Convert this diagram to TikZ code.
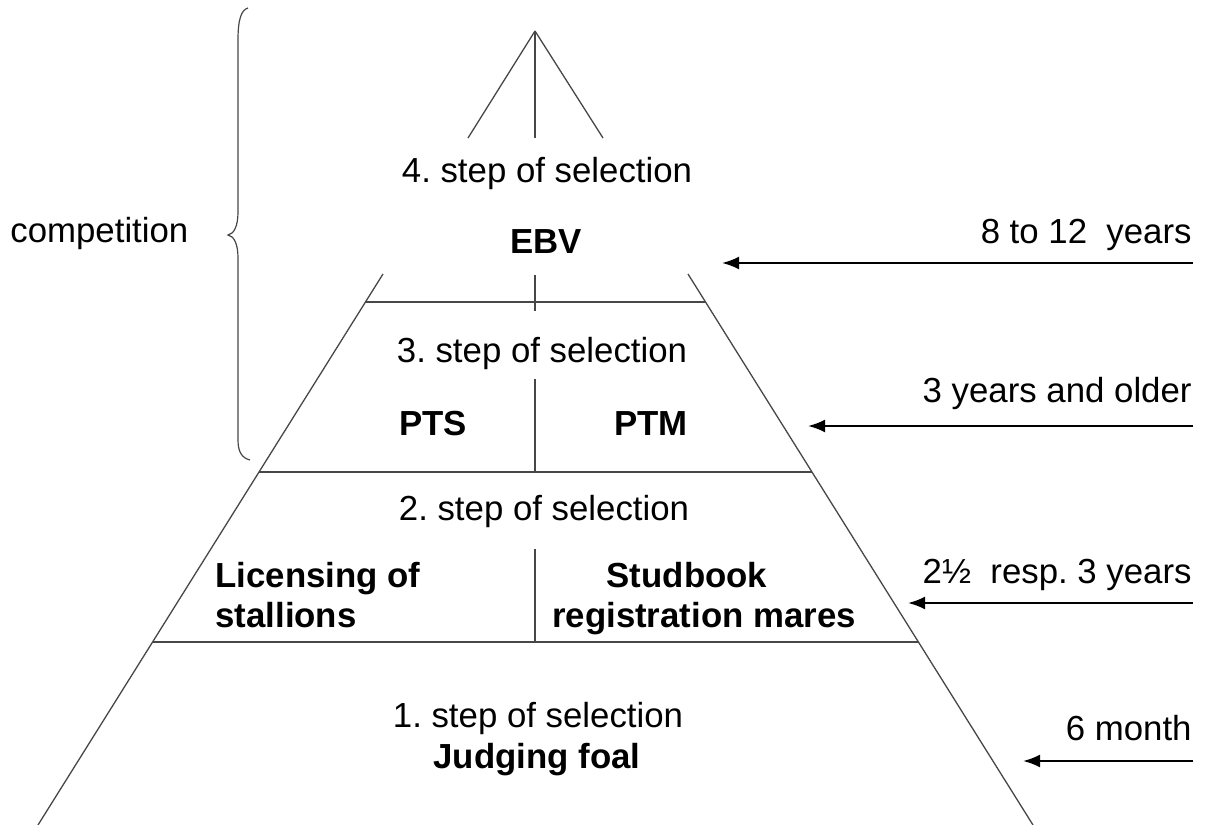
\documentclass[tikz,border=0pt]{standalone}
\usepackage{fontspec}
\setmainfont{Liberation Sans}
\usetikzlibrary{arrows.meta}
\frenchspacing
\begin{document}
\begin{tikzpicture}[x=0.5pt,y=-0.5pt,
  every node/.style={inner sep=0pt, font=\fontsize{17.4}{20}\selectfont},
  lbl/.style={anchor=base},
  bld/.style={anchor=base, font=\fontsize{17.4}{20}\selectfont\bfseries},
  agelbl/.style={anchor=base east},
  pyr/.style={draw=black!72, line width=0.65pt},
  bracepath/.style={draw=black!72, line width=0.6pt},
  agearrow/.style={-{Latex[length=8.5pt,width=6.5pt]}, line width=1.1pt},
]
\useasboundingbox (0,0) rectangle (1206,825);

% pyramid geometry
\coordinate (apex) at (535,31);
\coordinate (tl) at (468,138);
\coordinate (tm) at (535,138);
\coordinate (tr) at (603,138);
\coordinate (sl) at (383,274);
\coordinate (sr) at (688,274);
\coordinate (bl) at (38,825);
\coordinate (br) at (1033,825);
\coordinate (h1l) at (365.5,302);
\coordinate (h1r) at (705.5,302);
\coordinate (h2l) at (259,472);
\coordinate (h2r) at (812,472);
\coordinate (h3l) at (152.5,642);
\coordinate (h3r) at (918.5,642);
\coordinate (v1a) at (535,275);
\coordinate (v1b) at (535,311);
\coordinate (v2a) at (535,379);
\coordinate (v2b) at (535,472);
\coordinate (v3a) at (535,549);
\coordinate (v3b) at (535,642);

\draw[pyr] (apex) -- (tl);
\draw[pyr] (apex) -- (tm);
\draw[pyr] (apex) -- (tr);
\draw[pyr] (sl) -- (bl);
\draw[pyr] (sr) -- (br);
\draw[pyr] (h1l) -- (h1r);
\draw[pyr] (h2l) -- (h2r);
\draw[pyr] (h3l) -- (h3r);
\draw[pyr] (v1a) -- (v1b);
\draw[pyr] (v2a) -- (v2b);
\draw[pyr] (v3a) -- (v3b);

% brace
\draw[bracepath] (248,8) .. controls (241,10) and (238,20) .. (238,40)
  -- (238,212) .. controls (238,226) and (234,234) .. (228,235)
  .. controls (234,236) and (238,244) .. (238,258)
  -- (238,440) .. controls (238,452) and (242,458) .. (250,460);

% texts in pyramid
\node[lbl] (s4) at (547,182) {4. step of selection};
\node[bld] (ebv) at (546,253) {EBV};
\node[lbl] (s3) at (542,362) {3. step of selection};
\node[bld] (pts) at (433,435) {PTS};
\node[bld] (ptm) at (651,435) {PTM};
\node[lbl] (s2) at (544,520) {2. step of selection};
\node[bld, anchor=base west] (lic1) at (215,587) {Licensing of};
\node[bld, anchor=base west] (lic2) at (215,627) {stallions};
\node[bld] (stud1) at (687,587) {Studbook};
\node[bld] (stud2) at (704,627) {registration mares};
\node[lbl] (s1) at (538,727) {1. step of selection};
\node[bld] (judge) at (537,768) {Judging foal};

\node[lbl, anchor=base west] (comp) at (10,242) {competition};

% ages
\node[agelbl] (age4) at (1192,243) {8 to 12\ \ years};
\node[agelbl] (age3) at (1192,402) {3 years and older};
\node[agelbl] (age2) at (1192,583) {2½\ \ resp. 3 years};
\node[agelbl] (age1) at (1192,740) {6 month};

\coordinate (e4) at (1193,263);
\coordinate (t4) at (722,263);
\coordinate (e3) at (1193,426);
\coordinate (t3) at (808,426);
\coordinate (e2) at (1193,603);
\coordinate (t2) at (908,603);
\coordinate (e1) at (1193,761);
\coordinate (t1) at (1023,761);
\draw[agearrow] (e4) -- (t4);
\draw[agearrow] (e3) -- (t3);
\draw[agearrow] (e2) -- (t2);
\draw[agearrow] (e1) -- (t1);
\end{tikzpicture}
\end{document}
